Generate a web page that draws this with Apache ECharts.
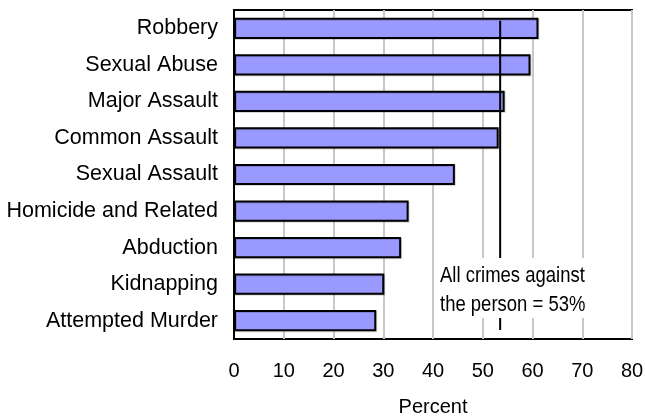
<!DOCTYPE html>
<html>
<head>
<meta charset="utf-8">
<script src="https://cdn.jsdelivr.net/npm/echarts@6/dist/echarts.min.js"></script>
<style>
  html, body { margin: 0; padding: 0; background: #fff; }
  #chart { width: 645px; height: 417px; }
</style>
</head>
<body>
<div id="chart"></div>
<script>
var myChart = echarts.init(document.getElementById('chart'));

// categories, top to bottom
let crimes = ['Robbery', 'Sexual Abuse', 'Major Assault', 'Common Assault', 'Sexual Assault',
              'Homicide and Related', 'Abduction', 'Kidnapping', 'Attempted Murder'];
let percents = [61.2, 59.6, 54.4, 53.2, 44.4, 35.1, 33.6, 30.2, 28.6];
// reference line: all crimes against the person
let allCrimes = 53.5;
let allCrimesText = ['All crimes against', 'the person = 53%'];

option = {
    animation: false,
    grid: {
        left: 234,
        right: 13,
        top: 10,
        bottom: 78,
        outerBoundsMode: 'none',
        show: true,
        borderColor: '#000',
        borderWidth: 2,
        backgroundColor: '#fff'
    },
    xAxis: {
        type: 'value',
        min: 0,
        max: 80,
        interval: 10,
        name: 'Percent',
        nameLocation: 'middle',
        nameGap: 58,
        nameTextStyle: { fontFamily: 'Liberation Sans', fontSize: 20, color: '#000' },
        axisLine: { show: false },
        axisTick: { show: false },
        axisLabel: { fontFamily: 'Liberation Sans', fontSize: 20, color: '#000', margin: 22 },
        splitLine: { show: true, lineStyle: { color: '#c8c8c8', width: 2 } }
    },
    yAxis: [
        {
            type: 'category',
            data: crimes,
            inverse: true,
            axisLine: { show: true, lineStyle: { color: '#000', width: 2 } },
            axisTick: { show: false },
            axisLabel: { fontFamily: 'Liberation Sans', fontSize: 21.5, color: '#000', margin: 16 }
        },
        {
            // hidden helper axis for the reference line
            type: 'value',
            min: 0,
            max: 1,
            show: false
        }
    ],
    series: [
        {
            type: 'bar',
            data: percents,
            barWidth: '58%',
            itemStyle: {
                color: '#9999ff',
                borderColor: '#000',
                borderWidth: 2,
                shadowColor: 'rgba(0,0,0,0.15)',
                shadowOffsetX: 1,
                shadowOffsetY: 1
            },
            z: 3
        },
        {
            type: 'line',
            yAxisIndex: 1,
            data: [[allCrimes, 0.967], [allCrimes, 0.027]],
            symbol: 'none',
            lineStyle: { color: '#000', width: 2 },
            silent: true,
            z: 4
        }
    ],
    graphic: [
        {
            type: 'rect',
            shape: { x: 437, y: 258, width: 153, height: 60 },
            style: { fill: '#fff' },
            z: 100
        },
        {
            type: 'text',
            x: 440,
            y: 261,
            scaleX: 0.84,
            style: {
                text: allCrimesText.join('\n'),
                font: '22px "Liberation Sans", sans-serif',
                fill: '#000',
                lineHeight: 29
            },
            z: 101
        }
    ]
};

myChart.setOption(option);
</script>
</body>
</html>
